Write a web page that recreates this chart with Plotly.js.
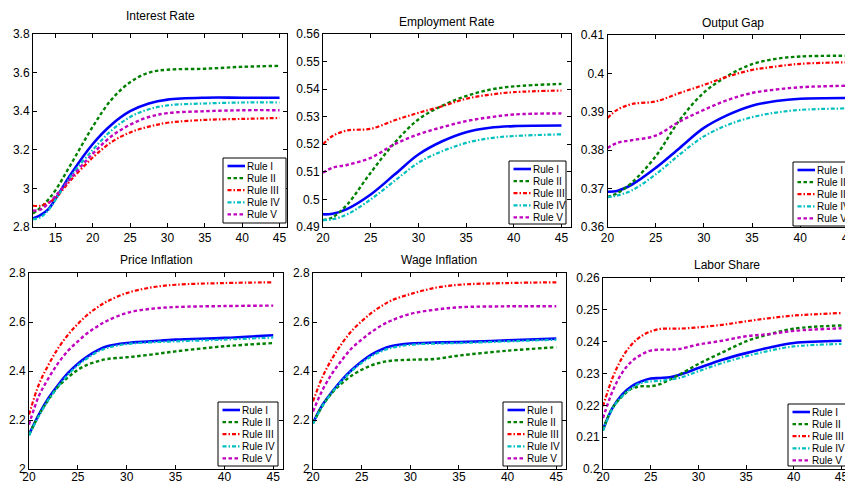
<!DOCTYPE html>
<html><head><meta charset="utf-8">
<script src="https://cdn.plot.ly/plotly-3.0.1.min.js"></script>
<style>html,body{margin:0;padding:0;overflow:hidden;background:#fff;} #chart{width:860px;height:484px;}</style>
</head><body><div id="chart"></div>
<script>
// ---------- data ----------
const ruleNames = ["Rule I", "Rule II", "Rule III", "Rule IV", "Rule V"];
const panelTitles = ["Interest Rate", "Employment Rate", "Output Gap", "Price Inflation", "Wage Inflation", "Labor Share"];

// Interest Rate
const xInterest = [12, 13, 14, 15, 17, 20, 22.5, 25, 27.5, 30, 35, 40, 45];
const interestI   = [2.845, 2.862, 2.89, 2.945, 3.07, 3.23, 3.33, 3.40, 3.44, 3.46, 3.47, 3.47, 3.47];
const interestII  = [2.87, 2.90, 2.94, 2.99, 3.12, 3.32, 3.46, 3.55, 3.60, 3.615, 3.62, 3.63, 3.635];
const interestIII = [2.91, 2.91, 2.925, 2.95, 3.04, 3.16, 3.24, 3.29, 3.32, 3.34, 3.355, 3.36, 3.365];
const interestIV  = [2.84, 2.85, 2.885, 2.94, 3.06, 3.20, 3.30, 3.37, 3.41, 3.43, 3.44, 3.445, 3.445];
const interestV   = [2.885, 2.89, 2.92, 2.96, 3.05, 3.18, 3.27, 3.33, 3.37, 3.39, 3.40, 3.405, 3.405];

// Employment Rate
const xEmployment = [20, 21, 22.5, 25, 27.5, 30, 32.5, 35, 37.5, 40, 45];
const employmentI   = [0.4946, 0.4948, 0.4965, 0.5018, 0.5090, 0.5163, 0.5211, 0.5244, 0.5260, 0.5266, 0.5268];
const employmentII  = [0.4925, 0.4935, 0.4980, 0.5097, 0.5205, 0.5290, 0.5340, 0.5375, 0.5398, 0.5410, 0.5419];
const employmentIII = [0.5200, 0.5230, 0.5250, 0.5256, 0.5287, 0.5314, 0.5338, 0.5365, 0.5380, 0.5389, 0.5395];
const employmentIV  = [0.4925, 0.4928, 0.4945, 0.5000, 0.5067, 0.5133, 0.5175, 0.5205, 0.5222, 0.5230, 0.5236];
const employmentV   = [0.5097, 0.5115, 0.5125, 0.5151, 0.5200, 0.5236, 0.5262, 0.5284, 0.5298, 0.5308, 0.5312];

// Output Gap
const xOutput = [20, 21, 22.5, 25, 27.5, 30, 32.5, 35, 37.5, 40, 45];
const outputI   = [0.3692, 0.3694, 0.3710, 0.3754, 0.3806, 0.3858, 0.3892, 0.3916, 0.3928, 0.3934, 0.3936];
const outputII  = [0.3678, 0.3688, 0.3715, 0.3784, 0.3879, 0.3950, 0.3994, 0.4024, 0.4038, 0.4044, 0.4046];
const outputIII = [0.3884, 0.3905, 0.3920, 0.3927, 0.3949, 0.3970, 0.3992, 0.4009, 0.4018, 0.4025, 0.4029];
const outputIV  = [0.3678, 0.3682, 0.3695, 0.3737, 0.3789, 0.3836, 0.3866, 0.3886, 0.3898, 0.3905, 0.3909];
const outputV   = [0.3806, 0.3819, 0.3826, 0.3838, 0.3875, 0.3905, 0.3931, 0.3949, 0.3958, 0.3964, 0.3968];

// Price Inflation
const xPrice = [20, 21, 22, 23, 24, 25, 26, 27, 28, 30, 32.5, 35, 40, 45];
const priceI   = [2.140, 2.222, 2.290, 2.344, 2.392, 2.430, 2.460, 2.484, 2.501, 2.514, 2.521, 2.528, 2.535, 2.546];
const priceII  = [2.140, 2.219, 2.283, 2.337, 2.374, 2.405, 2.426, 2.439, 2.449, 2.456, 2.467, 2.480, 2.501, 2.514];
const priceIII = [2.222, 2.344, 2.426, 2.494, 2.548, 2.592, 2.630, 2.660, 2.684, 2.718, 2.741, 2.752, 2.759, 2.762];
const priceIV  = [2.137, 2.215, 2.283, 2.337, 2.385, 2.423, 2.453, 2.478, 2.494, 2.510, 2.517, 2.521, 2.528, 2.537];
const priceV   = [2.181, 2.297, 2.371, 2.433, 2.483, 2.521, 2.555, 2.582, 2.605, 2.637, 2.654, 2.661, 2.665, 2.667];

// Wage Inflation
const xWage = [20, 21, 22, 23, 24, 25, 26, 27, 28, 30, 32.5, 35, 40, 45];
const wageI   = [2.188, 2.263, 2.317, 2.365, 2.405, 2.439, 2.467, 2.487, 2.501, 2.512, 2.516, 2.518, 2.525, 2.532];
const wageII  = [2.188, 2.260, 2.313, 2.351, 2.382, 2.405, 2.423, 2.435, 2.442, 2.446, 2.449, 2.463, 2.483, 2.497];
const wageIII = [2.276, 2.378, 2.453, 2.514, 2.565, 2.603, 2.637, 2.664, 2.687, 2.714, 2.739, 2.752, 2.759, 2.762];
const wageIV  = [2.185, 2.259, 2.314, 2.361, 2.401, 2.433, 2.460, 2.480, 2.494, 2.507, 2.512, 2.514, 2.521, 2.528];
const wageV   = [2.235, 2.324, 2.392, 2.446, 2.494, 2.528, 2.559, 2.585, 2.605, 2.633, 2.650, 2.660, 2.664, 2.664];

// Labor Share
const xLabor = [20, 21, 22, 23, 24, 25, 26, 27, 28, 30, 32.5, 35, 37.5, 40, 45];
const laborI   = [0.2124, 0.2192, 0.2234, 0.2260, 0.2275, 0.2284, 0.2286, 0.2288, 0.2296, 0.2317, 0.2343, 0.2364, 0.2382, 0.2396, 0.2403];
const laborII  = [0.2124, 0.2192, 0.2228, 0.2252, 0.2260, 0.2260, 0.2267, 0.2281, 0.2296, 0.2330, 0.2366, 0.2401, 0.2424, 0.2441, 0.2451];
const laborIII = [0.2197, 0.2286, 0.2349, 0.2391, 0.2417, 0.2432, 0.2440, 0.2441, 0.2441, 0.2445, 0.2453, 0.2464, 0.2474, 0.2482, 0.2490];
const laborIV  = [0.2120, 0.2190, 0.2228, 0.2254, 0.2270, 0.2275, 0.2277, 0.2281, 0.2286, 0.2307, 0.2333, 0.2354, 0.2372, 0.2385, 0.2393];
const laborV   = [0.2160, 0.2244, 0.2302, 0.2338, 0.2359, 0.2372, 0.2375, 0.2375, 0.2377, 0.2391, 0.2403, 0.2417, 0.2424, 0.2434, 0.2442];

// ---------- layout geometry (pixels) ----------
const W = 860, H = 484;
const FONT = "Liberation Sans, Arial, Helvetica, sans-serif";
const colors = ["#0000ff", "#008000", "#ff0000", "#00bfbf", "#bf00bf"];
const dashes = ["solid", "3.5px,2.5px", "4px,2px,1.5px,2px", "4px,2px,1.5px,2px", "3.5px,2.5px"];
const widths = [2.6, 2.4, 2.2, 2.2, 2.4];

const panels = [
  {x: xInterest, ys: [interestI, interestII, interestIII, interestIV, interestV],
   box: [33, 34, 287, 227], xr: [12, 46], yr: [2.8, 3.8], ydt: 0.2, titleY: 16, xoff: 0,
   leg: [223, 158, 63, 65]},
  {x: xEmployment, ys: [employmentI, employmentII, employmentIII, employmentIV, employmentV],
   box: [323, 34, 571, 227], xr: [20, 46], yr: [0.49, 0.56], ydt: 0.01, titleY: 22, xoff: 0,
   leg: [509, 161, 57, 63]},
  {x: xOutput, ys: [outputI, outputII, outputIII, outputIV, outputV],
   box: [607.5, 35, 858, 227], xr: [20, 46], yr: [0.36, 0.41], ydt: 0.01, titleY: 22.5, xoff: 0,
   leg: [793, 162, 62, 64]},
  {x: xPrice, ys: [priceI, priceII, priceIII, priceIV, priceV],
   box: [29, 273, 283, 469], xr: [20, 46], yr: [2.0, 2.8], ydt: 0.2, titleY: 260, xoff: -3,
   leg: [218, 402, 60, 64]},
  {x: xWage, ys: [wageI, wageII, wageIII, wageIV, wageV],
   box: [313, 273, 566, 469], xr: [20, 46], yr: [2.0, 2.8], ydt: 0.2, titleY: 260, xoff: -3,
   leg: [503, 402, 59, 64]},
  {x: xLabor, ys: [laborI, laborII, laborIII, laborIV, laborV],
   box: [603, 278, 851, 469], xr: [20, 46], yr: [0.2, 0.26], ydt: 0.01, titleY: 265, xoff: -3,
   leg: [788, 404, 60, 62]}
];

const px = v => v / W;
const py = v => 1 - v / H;

const data = [];
const layout = {
  width: W, height: H, margin: {l: 0, r: 0, t: 0, b: 0},
  paper_bgcolor: "#fff", plot_bgcolor: "#fff", showlegend: false,
  font: {family: FONT, size: 12, color: "#000"},
  shapes: [], annotations: []
};

panels.forEach((p, k) => {
  const n = k + 1;
  const xa = "x" + (n === 1 ? "" : n), ya = "y" + (n === 1 ? "" : n);
  const common = {showgrid: false, zeroline: false, showline: true, linecolor: "#000", linewidth: 1,
    mirror: "ticks", ticks: "inside", ticklen: 4, tickwidth: 1, tickcolor: "#000",
    tickfont: {family: FONT, size: 12, color: "#000"}, fixedrange: true};
  layout["xaxis" + (n === 1 ? "" : n)] = Object.assign({}, common, {
    domain: [px(p.box[0]), px(p.box[2])], range: p.xr, dtick: 5, tick0: 0, anchor: ya,
    ticklabelstandoff: p.xoff});
  layout["yaxis" + (n === 1 ? "" : n)] = Object.assign({}, common, {
    domain: [py(p.box[3]), py(p.box[1])], range: p.yr, dtick: p.ydt, tick0: 0, anchor: xa});

  p.ys.forEach((y, i) => {
    data.push({type: "scatter", mode: "lines", x: p.x, y: y, name: ruleNames[i],
      xaxis: xa, yaxis: ya, showlegend: false, hoverinfo: "skip",
      line: {color: colors[i], width: widths[i], dash: dashes[i], shape: "spline", smoothing: 1}});
  });

  // title
  layout.annotations.push({text: panelTitles[k], showarrow: false, xref: "paper", yref: "paper",
    x: px((p.box[0] + p.box[2]) / 2), y: py(p.titleY), xanchor: "center", yanchor: "middle",
    font: {family: FONT, size: 12, color: "#000"}});

  // legend box (MATLAB-style compact legend)
  const [l, t, w, h] = p.leg;
  layout.shapes.push({type: "rect", xref: "paper", yref: "paper", x0: px(l), x1: px(l + w),
    y0: py(t + h), y1: py(t), line: {color: "#000", width: 1}, fillcolor: "#fff", layer: "above"});
  ruleNames.forEach((nm, i) => {
    const ry = t + 8 + 12.1 * i;
    layout.shapes.push({type: "line", xref: "paper", yref: "paper", x0: px(l + 4.5), x1: px(l + 22),
      y0: py(ry), y1: py(ry), line: {color: colors[i], width: widths[i], dash: dashes[i]}, layer: "above"});
    layout.annotations.push({text: nm, showarrow: false, xref: "paper", yref: "paper",
      x: px(l + 22.5), y: py(ry), xanchor: "left", yanchor: "middle", borderpad: 0,
      font: {family: FONT, size: 10, color: "#000"}});
  });
});

Plotly.newPlot("chart", data, layout, {displayModeBar: false, staticPlot: true});
</script></body></html>
